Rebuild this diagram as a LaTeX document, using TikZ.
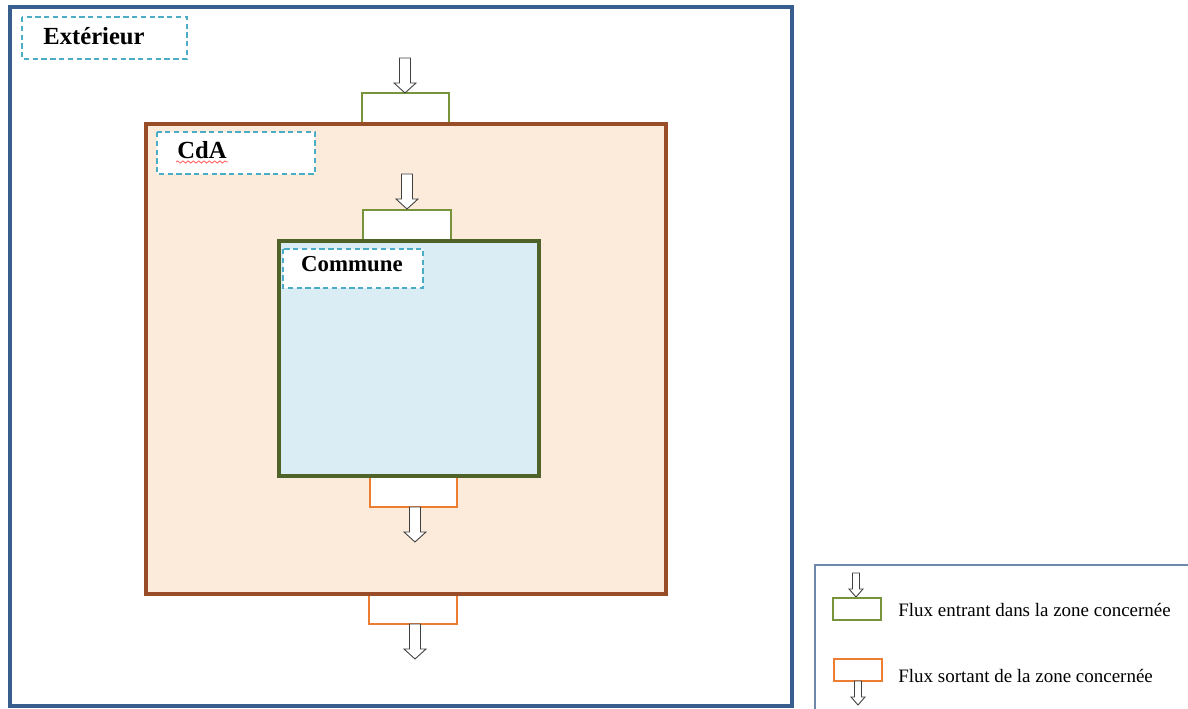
\documentclass[tikz,border=0pt]{standalone}
\usepackage{fontspec}
\setmainfont{Liberation Serif}
\usetikzlibrary{decorations.pathmorphing}
\begin{document}
\begin{tikzpicture}[x=0.02cm, y=-0.02cm, line join=miter]
  \definecolor{extblue}{RGB}{56,94,142}
  \definecolor{cdabrown}{RGB}{152,76,40}
  \definecolor{cdafill}{RGB}{252,234,218}
  \definecolor{comgreen}{RGB}{79,98,40}
  \definecolor{comfill}{RGB}{218,236,244}
  \definecolor{ingreen}{RGB}{119,147,60}
  \definecolor{outorange}{RGB}{237,125,49}
  \definecolor{tagcyan}{RGB}{75,172,198}
  \definecolor{legblue}{RGB}{110,135,170}
  \tikzset{
    tagbox/.style={draw=tagcyan, fill=white, line width=1.2pt, dash pattern=on 3pt off 2pt},
    tagtext/.style={font=\bfseries\fontsize{14}{16}\selectfont, inner sep=0pt},
    inbox/.style={draw=ingreen, fill=white, line width=1.6pt},
    outbox/.style={draw=outorange, fill=white, line width=1.6pt},
    legtext/.style={font=\fontsize{10.8}{13}\selectfont, anchor=west, inner sep=0pt},
    flux/.pic={\draw[black!75, fill=white, line width=0.5pt]
      (-5.5,0) -- (5.5,0) -- (5.5,25) -- (11,25) -- (0,35) -- (-11,25) -- (-5.5,25) -- cycle;},
    smallflux/.pic={\draw[black!75, fill=white, line width=0.5pt]
      (-3.5,0) -- (3.5,0) -- (3.5,16) -- (7,16) -- (0,24) -- (-7,16) -- (-3.5,16) -- cycle;}
  }
  \useasboundingbox (0,0) rectangle (1188,709);
  % exterieur
  \draw[extblue, line width=2.4pt] (10,7) rectangle (792,706);
  \draw[tagbox] (22,17) rectangle (187,59);
  \node[tagtext] (ext) at (94,36) {Extérieur};
  % flux entrant / sortant CdA
  \draw[inbox] (362,93) rectangle (449,124);
  \pic at (405,58) {flux};
  \draw[outbox] (369,594) rectangle (457,624);
  \pic at (415,624) {flux};
  % CdA
  \draw[cdabrown, fill=cdafill, line width=2.4pt] (146,124) rectangle (666,594);
  \draw[tagbox] (157,132) rectangle (315,174);
  \node[tagtext] (cda) at (202,150) {CdA};
  \draw[red!60, line width=0.5pt, decorate, decoration={snake, amplitude=0.6pt, segment length=3pt}]
    (176,162) -- (228,162);
  % flux entrant / sortant commune
  \draw[inbox] (363,210) rectangle (451,241);
  \pic at (407,174) {flux};
  \draw[outbox] (370,476) rectangle (457,507);
  \pic at (415,507) {flux};
  % commune
  \draw[comgreen, fill=comfill, line width=2.8pt] (279,241) rectangle (539,476);
  \draw[tagbox] (283,249) rectangle (423,288);
  \node[tagtext, font=\bfseries\fontsize{13}{15}\selectfont] (com) at (352,264) {Commune};
  % legende
  \draw[legblue, line width=0.8pt] (815,709) |- (1190,565);
  \pic at (856,573) {smallflux};
  \draw[inbox] (833,598) rectangle (881,620);
  \node[legtext] (legin) at (898,610) {Flux entrant dans la zone concernée};
  \draw[outbox] (834,659) rectangle (882,681);
  \pic at (858,681) {smallflux};
  \node[legtext] (legout) at (898,676) {Flux sortant de la zone concernée};
\end{tikzpicture}
\end{document}
